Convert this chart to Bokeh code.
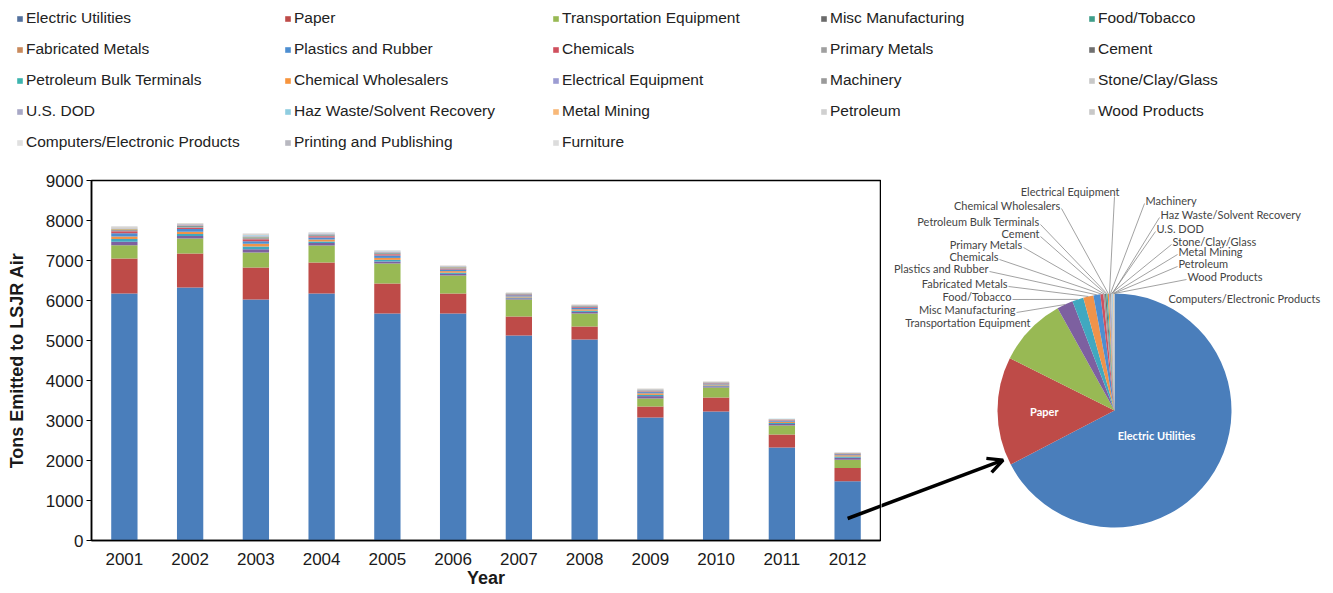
import math
from bokeh.plotting import figure
from bokeh.models import (ColumnDataSource, Legend, LegendItem, Range1d, FactorRange,
                          Arrow, OpenHead, FixedTicker)
from bokeh.layouts import column, row
from bokeh.embed import file_html
from bokeh.resources import INLINE
from bokeh.core.properties import value

# ---------------- data ----------------
years = ["2001", "2002", "2003", "2004", "2005", "2006",
         "2007", "2008", "2009", "2010", "2011", "2012"]

categories = ["Electric Utilities", "Paper", "Transportation Equipment", "Misc Manufacturing",
              "Food/Tobacco", "Fabricated Metals", "Plastics and Rubber", "Chemicals",
              "Primary Metals", "Cement", "Petroleum Bulk Terminals", "Chemical Wholesalers",
              "Electrical Equipment", "Machinery", "Stone/Clay/Glass", "U.S. DOD",
              "Haz Waste/Solvent Recovery", "Metal Mining", "Petroleum", "Wood Products",
              "Computers/Electronic Products", "Printing and Publishing", "Furniture"]

electric_utilities = [6175, 6325, 6025, 6175, 5675, 5675, 5125, 5025, 3075, 3225, 2325, 1480]
paper = [875, 850, 800, 775, 750, 500, 475, 325, 275, 350, 325, 330]
transportation_equipment = [330, 375, 375, 425, 500, 450, 425, 325, 200, 250, 225, 210]
misc_manufacturing = [90, 60, 80, 60, 50, 40, 30, 40, 60, 30, 40, 49]
food_tobacco = [70, 50, 70, 40, 40, 30, 20, 30, 30, 20, 25, 34]
fabricated_metals = [60, 60, 70, 50, 50, 40, 25, 35, 40, 25, 30, 31]
plastics_rubber = [80, 70, 60, 50, 60, 40, 30, 40, 30, 20, 25, 21]
chemicals = [50, 30, 50, 30, 30, 20, 15, 20, 15, 10, 10, 9]
primary_metals = [20, 20, 25, 15, 15, 15, 10, 10, 10, 5, 6, 5]
cement = [15, 15, 15, 10, 10, 10, 8, 8, 8, 5, 5, 4]
petroleum_bulk_terminals = [10, 10, 10, 8, 8, 8, 6, 6, 6, 5, 5, 4]
chemical_wholesalers = [10, 10, 10, 8, 8, 8, 5, 6, 6, 5, 5, 4]
electrical_equipment = [10, 10, 10, 8, 8, 6, 4, 5, 10, 5, 4, 3]
machinery = [8, 8, 8, 6, 6, 5, 3, 4, 5, 3, 3, 3]
stone_clay_glass = [10, 10, 10, 8, 8, 5, 3, 4, 5, 3, 3, 2]
us_dod = [8, 8, 10, 6, 6, 5, 3, 4, 5, 3, 3, 2]
haz_waste = [6, 6, 8, 5, 5, 4, 3, 3, 4, 3, 3, 2]
metal_mining = [5, 5, 8, 5, 5, 4, 3, 3, 5, 3, 2, 2]
petroleum = [5, 5, 8, 5, 5, 3, 2, 2, 3, 2, 1, 1]
wood_products = [5, 5, 8, 5, 5, 3, 2, 2, 3, 2, 1, 1]
computers_electronic = [3, 3, 5, 2, 2, 2, 1, 1, 2, 1, 0.5, 0.5]
printing_publishing = [3, 3, 5, 2, 2, 2, 1, 1, 2, 0, 0, 0]
furniture = [2, 2, 5, 2, 2, 1, 1, 1, 1, 0, 0, 0]

y_ticks = [0, 1000, 2000, 3000, 4000, 5000, 6000, 7000, 8000, 9000]
pie_year = "2012"

series_values = [electric_utilities, paper, transportation_equipment, misc_manufacturing,
                 food_tobacco, fabricated_metals, plastics_rubber, chemicals, primary_metals,
                 cement, petroleum_bulk_terminals, chemical_wholesalers, electrical_equipment,
                 machinery, stone_clay_glass, us_dod, haz_waste, metal_mining, petroleum,
                 wood_products, computers_electronic, printing_publishing, furniture]

# ---------------- styles ----------------
colors = ["#4a7ebb", "#be4b48", "#98b954", "#7d60a0", "#40a8c0", "#f0934a", "#4d8ed1",
          "#d0505e", "#a0a0a0", "#707070", "#3cb4ae", "#f7943c", "#9c9cd2", "#9a9a9a",
          "#c8c8c8", "#a8a8c6", "#8fcde0", "#f8b878", "#d0d0d0", "#c8c8c8", "#e0e0e0",
          "#b8b8c0", "#dcdcdc"]
legend_colors = list(colors)
legend_colors[0] = "#54719e"
legend_colors[3] = "#6b6b6b"
legend_colors[4] = "#3f9e8a"
legend_colors[5] = "#c98a5c"

FONT = "Liberation Sans"
PIE_FONT = "Lato"

# layout (page px; the page has no body margin)
LEG_H = 155
BAR_LEFT, FRAME_W, BAR_RIGHT = 91, 789, 1
BAR_TOP, FRAME_H, BAR_BOTTOM = 25, 360, 52
BAR_W = BAR_LEFT + FRAME_W + BAR_RIGHT
BAR_H = BAR_TOP + FRAME_H + BAR_BOTTOM
PIE_W = 1332 - BAR_W

FRAME_X0 = BAR_LEFT
FRAME_Y0 = LEG_H + BAR_TOP
PIE_X0 = BAR_W
PIE_CX, PIE_CY, PIE_R = 1114, 410, 117


def pfx(px):
    return px - PIE_X0


def pfy(py):
    # the pie figure's frame is aligned with the bar frame by the row layout
    return FRAME_Y0 + FRAME_H - py


# ---------------- legend figure ----------------
leg = figure(width=1332, height=LEG_H, x_range=Range1d(0, 1), y_range=Range1d(0, 1),
             output_backend="svg", toolbar_location=None, min_border=0,
             x_axis_location=None, y_axis_location=None)
leg.grid.visible = False
leg.outline_line_color = None
items = []
for name, c in zip(categories, legend_colors):
    r = leg.rect(x=[-10], y=[-10], width=1, height=1, fill_color=c, line_color=None)
    items.append(LegendItem(label=name, renderers=[r]))
ROW_H, ROW_GAP = 18, 13
legend_h = 5 * ROW_H + 4 * ROW_GAP
legend = Legend(items=items, orientation="horizontal", ncols=5,
                location=(16, LEG_H - 9 - legend_h),
                glyph_width=7, glyph_height=7, label_standoff=3, label_width=245,
                label_height=ROW_H, spacing=ROW_GAP, padding=0, margin=0,
                border_line_color=None, background_fill_alpha=0,
                label_text_font=FONT, label_text_font_size="15.5px",
                label_text_color="#222222")
leg.add_layout(legend, "center")

# ---------------- bar figure ----------------
data = {"year": years}
for name, vals in zip(categories, series_values):
    data[name] = vals
src = ColumnDataSource(data)

bar = figure(x_range=FactorRange(*years), y_range=Range1d(0, 9000),
             width=BAR_W, height=BAR_H, output_backend="svg", toolbar_location=None,
             min_border_left=BAR_LEFT, min_border_right=BAR_RIGHT,
             min_border_top=BAR_TOP, min_border_bottom=BAR_BOTTOM)
bar.vbar_stack(categories, x="year", width=0.4, color=colors, line_color=None, source=src)
bar.grid.visible = False
bar.outline_line_color = "black"
bar.outline_line_width = 1.5
bar.yaxis.ticker = FixedTicker(ticks=y_ticks)
bar.yaxis.minor_tick_line_color = None
bar.yaxis.major_tick_in = 0
bar.yaxis.major_tick_out = 5
bar.yaxis.major_label_standoff = 3
bar.xaxis.major_tick_line_color = None
bar.xaxis.minor_tick_line_color = None
bar.xaxis.major_label_standoff = 6
for ax in (bar.xaxis[0], bar.yaxis[0]):
    ax.axis_line_color = "black"
    ax.axis_line_width = 1.5
    ax.major_label_text_font = FONT
    ax.major_label_text_font_size = "17px"
    ax.major_label_text_color = "#1a1a1a"
    ax.axis_label_text_font = FONT
    ax.axis_label_text_font_style = "bold"
    ax.axis_label_text_font_size = "18px"
    ax.axis_label_text_color = "#1a1a1a"
bar.xaxis.axis_label = "Year"
bar.xaxis.axis_label_standoff = 0
bar.yaxis.axis_label = "Tons Emitted to LSJR Air"
bar.yaxis.axis_label_standoff = 16

# ---------------- pie data ----------------
k = years.index(pie_year)
pie_names, pie_vals, pie_cols = [], [], []
for name, vals, c in zip(categories, series_values, colors):
    if vals[k] > 0:
        pie_names.append(name)
        pie_vals.append(vals[k])
        pie_cols.append(c)
total = sum(pie_vals)
starts, ends, mids = [], [], []
acc = 0.0
for v in pie_vals:
    a0 = acc / total
    acc += v
    a1 = acc / total
    starts.append(math.pi / 2 - 2 * math.pi * a0)
    ends.append(math.pi / 2 - 2 * math.pi * a1)
    mids.append(math.pi / 2 - math.pi * (a0 + a1))

# ---------------- arrow (page px) ----------------
ARROW_START_VALUE = 550
ARROW_END_DEG = 246
ax0 = FRAME_X0 + (years.index(pie_year) + 0.5) / len(years) * FRAME_W
ay0 = FRAME_Y0 + FRAME_H * (1 - ARROW_START_VALUE / 9000)
ang = math.radians(ARROW_END_DEG)
ax1 = PIE_CX + (PIE_R + 5) * math.sin(ang)
ay1 = PIE_CY - (PIE_R + 5) * math.cos(ang)
slope = (ay1 - ay0) / (ax1 - ax0)
edge_x = FRAME_X0 + FRAME_W
edge_y = ay0 + slope * (edge_x - ax0)
bar.segment(x0=[(pie_year, 0.0)], y0=[ARROW_START_VALUE], x1=[(pie_year, 0.5)],
            y1=[9000 * (1 - (edge_y - FRAME_Y0) / FRAME_H)],
            line_color="black", line_width=3.5)

# ---------------- pie figure ----------------
pie = figure(width=PIE_W, height=BAR_H, x_range=Range1d(0, PIE_W), y_range=Range1d(0, FRAME_H),
             output_backend="svg", toolbar_location=None,
             min_border_left=0, min_border_right=0,
             min_border_top=BAR_TOP, min_border_bottom=BAR_BOTTOM,
             x_axis_location=None, y_axis_location=None)
pie.grid.visible = False
pie.outline_line_color = None
pie_src = ColumnDataSource(dict(name=pie_names, value=pie_vals, color=pie_cols,
                                start=starts, end=ends))
pie.wedge(x=pfx(PIE_CX), y=pfy(PIE_CY), radius=PIE_R, start_angle="start", end_angle="end",
          direction="clock", fill_color="color", line_color=None, source=pie_src)

p0x = PIE_X0 - 1
p0y = ay0 + slope * (p0x - ax0)
pie.add_layout(Arrow(x_start=pfx(p0x), y_start=pfy(p0y), x_end=pfx(ax1), y_end=pfy(ay1),
                     line_color="black", line_width=3.5,
                     end=OpenHead(size=15, line_color="black", line_width=3.5)))

# inside labels
inside = {"Electric Utilities": 0.42, "Paper": 0.6}
in_x, in_y, in_t = [], [], []
for name, f in inside.items():
    i = pie_names.index(name)
    in_x.append(pfx(PIE_CX) + f * PIE_R * math.cos(mids[i]))
    in_y.append(pfy(PIE_CY) + f * PIE_R * math.sin(mids[i]))
    in_t.append(name)
pie.text(x=in_x, y=in_y, text=in_t, text_color="white", text_font=value(PIE_FONT),
         text_font_style="bold", text_font_size="11px", text_align="center",
         text_baseline="middle")

# outside labels: page anchor (x, y, align)
label_layout = {
    "Transportation Equipment": (1030, 322, "right"),
    "Misc Manufacturing": (1015, 309, "right"),
    "Food/Tobacco": (1011, 296, "right"),
    "Fabricated Metals": (1007, 283, "right"),
    "Plastics and Rubber": (988, 268, "right"),
    "Chemicals": (998, 256, "right"),
    "Primary Metals": (1022, 244, "right"),
    "Cement": (1039, 233, "right"),
    "Petroleum Bulk Terminals": (1039, 221, "right"),
    "Chemical Wholesalers": (1060, 205, "right"),
    "Electrical Equipment": (1119, 191, "right"),
    "Machinery": (1145, 200, "left"),
    "Haz Waste/Solvent Recovery": (1160, 214, "left"),
    "U.S. DOD": (1156, 228, "left"),
    "Stone/Clay/Glass": (1172, 241, "left"),
    "Metal Mining": (1178, 251, "left"),
    "Petroleum": (1178, 263, "left"),
    "Wood Products": (1187, 276, "left"),
    "Computers/Electronic Products": (1168, 298, "left"),
}
no_leader = {"Transportation Equipment", "Computers/Electronic Products"}
lx, ly, lt, la = [], [], [], []
sx0, sy0, sx1, sy1 = [], [], [], []
for name in pie_names:
    if name not in label_layout:
        continue
    x, y, al = label_layout[name]
    lx.append(pfx(x))
    ly.append(pfy(y))
    lt.append(name)
    la.append(al)
    if name in no_leader:
        continue
    i = pie_names.index(name)
    ex = pfx(PIE_CX) + PIE_R * math.cos(mids[i])
    ey = pfy(PIE_CY) + PIE_R * math.sin(mids[i])
    if name == "Electrical Equipment":
        sx, sy = pfx(x - 5), pfy(y + 5)
    elif al == "right":
        sx, sy = pfx(x + 1), pfy(y + 3)
    else:
        sx, sy = pfx(x - 1), pfy(y + 3)
    sx0.append(sx); sy0.append(sy); sx1.append(ex); sy1.append(ey)

pie.segment(x0=sx0, y0=sy0, x1=sx1, y1=sy1, line_color="#8a8a8a", line_width=0.8)
pie.text(x=lx, y=ly, text=lt, text_align=la, text_baseline="middle",
         text_font=value(PIE_FONT), text_font_size="11px", text_color="#444444")

layout = column(leg, row(bar, pie, spacing=0), spacing=0)
open("out.html", "w").write(file_html(layout, INLINE))
